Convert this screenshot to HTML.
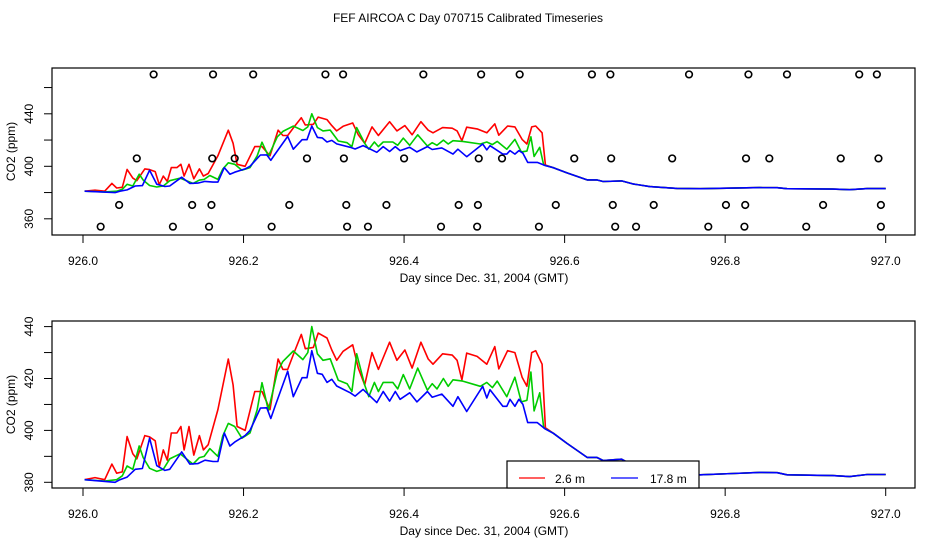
<!DOCTYPE html>
<html><head><meta charset="utf-8"><style>
body{margin:0;background:#fff}
svg{display:block;font-family:"Liberation Sans",sans-serif}
</style></head><body>
<svg id="chart" width="936" height="540" viewBox="0 0 936 540">
<text x="468" y="22" text-anchor="middle" font-size="12">FEF AIRCOA C  Day 070715  Calibrated Timeseries</text>
</svg>
<script>
// Day offsets from 926.0 and CO2 ppm values
const redT=[.002,.015,.027,.036,.042,.049,.055,.062,.067,.077,.083,.090,.095,.100,.105,.110,.117,.122,.126,.132,.138,.145,.150,.156,.168,.181,.187,.192,.202,.214,.223,.233,.243,.249,.255,.263,.272,.277,.287,.293,.304,.310,.316,.324,.336,.343,.351,.360,.368,.382,.391,.401,.410,.421,.430,.436,.448,.460,.466,.472,.478,.491,.503,.513,.518,.529,.538,.547,.553,.559,.564,.572,.576];
const redV=[381,381.8,381,387,383.5,384,397.6,391,389,398,397.5,396,386,392.5,388.5,399,399,401.5,392.5,401.5,390.5,398,392.5,394.5,408,427.5,417.5,401.5,400,415,415,408,427.5,423.5,423.5,430,437,431.5,432,437.5,435.6,431,427,430.5,433,424,417.5,430,423.5,434,427,431,424,434,427.5,425.5,429.5,429,427,419.5,429.8,428.5,425.5,432.3,423.7,430.7,430,420.5,417,430,430.7,425.5,401];
const greenT=[.002,.027,.042,.049,.055,.062,.070,.075,.083,.092,.100,.108,.121,.137,.145,.151,.158,.168,.174,.181,.189,.198,.208,.217,.223,.231,.242,.249,.262,.274,.280,.285,.292,.299,.308,.318,.329,.335,.341,.351,.356,.363,.368,.374,.386,.392,.399,.407,.417,.429,.435,.441,.449,.455,.461,.473,.495,.503,.510,.516,.528,.538,.546,.553,.558,.562,.569,.574];
const greenV=[381,380.5,381,382.5,386.3,385,394,389.5,385.4,384.2,385,389,391,387,389.5,390,393,390,397.8,402.7,401.5,397,399,408,418.4,407.7,422.5,426.6,430.6,427.3,430,440,429.5,427,427.6,419.3,418,415,429.5,417.5,413,418.5,415,418.5,418.5,416,421.5,416,424,415.5,418,416,420,417,419.5,419,417,418.5,416.5,419,413,420.5,411,411.6,422.5,407.5,414.5,401];
const blueT=[.002,.040,.046,.055,.065,.074,.083,.092,.102,.108,.123,.133,.143,.152,.162,.168,.176,.183,.189,.202,.208,.221,.229,.234,.239,.255,.262,.273,.279,.285,.292,.298,.304,.310,.316,.333,.339,.349,.366,.374,.382,.389,.395,.407,.416,.429,.435,.447,.461,.467,.478,.498,.503,.507,.523,.528,.532,.538,.543,.548,.554,.566,.576];
const blueV=[381,380,381,382,385,385.3,397,386.4,384.6,385,391.7,387,387.2,388.5,388,388,399,394,395.5,398,400,408.6,408.7,404.6,409,422.8,413,420.3,420.3,430.7,422,421.6,418.5,419.7,417.1,414.5,413.2,415.8,410.7,415,411.3,415,412,414.5,411,415,412.8,414,409.3,413,407.3,417,412.5,415.7,409.3,409.3,412,409.3,412,410,403,403,400.5];
const tailT=[.586,.603,.615,.628,.640,.648,.671,.685,.706,.740,.769,.810,.843,.865,.877,.934,.955,.977,1.000];
const tailV=[398.9,395,392.4,389.6,389.6,388.4,388.9,386.6,384.5,383.2,382.9,383.4,383.8,383.7,382.9,382.6,382.2,383,383];
// Flag circles in top panel (day offsets) at four levels
const flagLevels=[470,406,370.5,354];
const flagT=[
 [.088,.162,.212,.302,.324,.424,.496,.544,.634,.657,.755,.829,.877,.967,.989],
 [.067,.161,.189,.279,.325,.400,.493,.522,.612,.658,.734,.826,.855,.944,.991],
 [.045,.136,.160,.257,.328,.378,.468,.492,.589,.660,.711,.801,.825,.922,.994],
 [.022,.112,.157,.235,.329,.355,.446,.491,.568,.663,.689,.779,.824,.901,.994]];
const xTicks=[926.0,926.2,926.4,926.6,926.8,927.0];

const NS="http://www.w3.org/2000/svg";
const svg=document.getElementById('chart');
function mk(tag,attrs,parent){const e=document.createElementNS(NS,tag);for(const k in attrs)e.setAttribute(k,attrs[k]);(parent||svg).appendChild(e);return e;}
const X=t=>83+(t-926)*802.7;

const panels=[
 {name:'top',top:68,bot:235,y:v=>166.3-(v-400)*1.3125,ticks:[360,380,400,420,440,460],labels:[360,400,440],flags:true},
 {name:'bottom',top:321,bot:488,y:v=>482.3-(v-380)*2.595,ticks:[380,390,400,410,420,430,440],labels:[380,400,420,440],flags:false}
];
const series=[
 {n:'red',c:'#ff0000',t:redT,v:redV},
 {n:'green',c:'#00cc00',t:greenT,v:greenV},
 {n:'blue',c:'#0000ff',t:blueT,v:blueV}];

panels.forEach(p=>{
 const g=mk('g',{});
 
 
 const clipId='clip-'+p.name;
 const cp=mk('clipPath',{id:clipId},g);
 mk('rect',{x:52,y:p.top,width:863,height:p.bot-p.top},cp);
 const pl=mk('g',{'clip-path':'url(#'+clipId+')'},g);
 series.forEach(s=>{
  const ts=s.t.map(t=>926+t).concat(tailT.map(t=>926+t));
  const vs=s.v.slice(0,s.t.length).concat(tailV);
  let d='';
  for(let i=0;i<Math.min(ts.length,vs.length);i++)d+=(i?'L':'M')+X(ts[i]).toFixed(1)+' '+p.y(vs[i]).toFixed(1);
  const path=mk('path',{d:d,fill:'none',stroke:s.c,'stroke-width':1.6,'stroke-linejoin':'round'},pl);
  
  
 });
 if(p.flags){
  flagLevels.forEach((lv,li)=>{
   flagT[li].forEach(t=>{
    const c=mk('circle',{cx:X(926+t),cy:p.y(lv),r:3.3,fill:'none',stroke:'#000','stroke-width':1.6},pl);
    
    
   });
  });
 }
 const box=mk('rect',{x:52,y:p.top,width:863,height:p.bot-p.top,fill:'none',stroke:'#000','stroke-width':1.2},g);
 
 
 p.ticks.forEach(v=>{mk('line',{x1:44,x2:52,y1:p.y(v),y2:p.y(v),stroke:'#000','stroke-width':1},g);});
 p.labels.forEach(v=>{
  const tx=mk('text',{x:33,y:p.y(v),'font-size':12,'text-anchor':'middle',transform:'rotate(-90 33 '+p.y(v)+')'},g);
  tx.textContent=v;
  
  
 });
 xTicks.forEach(t=>{
  mk('line',{x1:X(t),x2:X(t),y1:p.bot,y2:p.bot+8,stroke:'#000','stroke-width':1},g);
  const tx=mk('text',{x:X(t),y:p.bot+30,'font-size':12,'text-anchor':'middle'},g);
  tx.textContent=t.toFixed(1);
  
  
 });
 const xt=mk('text',{x:484,y:p.bot+47,'font-size':12,'text-anchor':'middle'},g);
 xt.textContent='Day since Dec. 31, 2004 (GMT)';
 
 
 const cy=(p.top+p.bot)/2;
 const yt=mk('text',{x:15,y:cy,'font-size':12,'text-anchor':'middle',transform:'rotate(-90 15 '+cy+')'},g);
 yt.textContent='CO2 (ppm)';
 
 
});

// legend
const lg=mk('g',{});


mk('rect',{x:507,y:461,width:192,height:27,fill:'#fff',stroke:'#000','stroke-width':1.2},lg);
mk('line',{x1:519,x2:545,y1:478,y2:478,stroke:'#ff0000','stroke-width':1.2},lg);
const l1=mk('text',{x:555,y:483,'font-size':12},lg);l1.textContent='2.6 m';


mk('line',{x1:611,x2:638,y1:478,y2:478,stroke:'#0000ff','stroke-width':1.2},lg);
const l2=mk('text',{x:650,y:483,'font-size':12},lg);l2.textContent='17.8 m';


</script>
</body></html>
